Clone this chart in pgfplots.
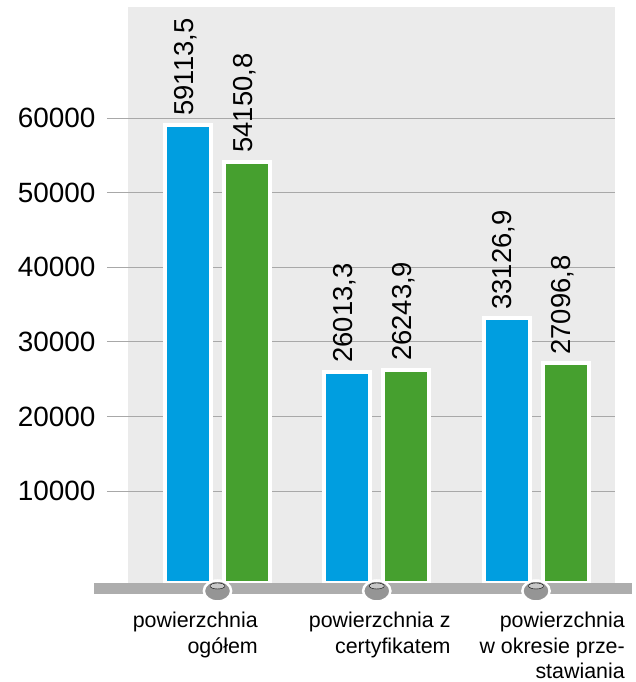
\documentclass[border=0pt]{standalone}
\usepackage{fontspec}
\setmainfont{Liberation Sans}
\usepackage{pgfplots}
\usepackage{pgfplotstable}
\pgfplotsset{compat=1.18}

\definecolor{barblue}{HTML}{009EE0}
\definecolor{bargreen}{HTML}{46A02F}
\definecolor{bggray}{HTML}{EBEBEB}
\definecolor{gridgray}{HTML}{A8A8A8}
\definecolor{basegray}{HTML}{ADADAD}
\definecolor{ballgray}{HTML}{959595}
\definecolor{ballhi}{HTML}{C8C8C8}

% the bars stand on the grey rail, which lies 2330 below zero
\pgfplotstableread{
x blue    blabel   green   glabel
0 59113.5 59113,5  54150.8 54150,8
1 26013.3 26013,3  26243.9 26243,9
2 33126.9 33126,9  27096.8 27096,8
}\data

\pgfplotsset{
  vlabel/.style={every node near coord/.style={xshift=#1, yshift=7bp,
      rotate=90, anchor=base west, inner sep=0pt, text=black,
      font=\fontsize{27.5}{30}\selectfont}},
}

\begin{document}
\begin{tikzpicture}
\begin{axis}[
    at={(128bp,99bp)}, anchor=south west,
    width=487bp, height=576bp, scale only axis,
    xmin=-0.562, xmax=2.496,
    ymin=0, ymax=77212,
    clip=false,
    axis background/.style={fill=bggray},
    axis line style={draw=none},
    ytick={12330,22330,32330,42330,52330,62330},
    yticklabels={10000,20000,30000,40000,50000,60000},
    ymajorgrids=true,
    grid style={gridgray, line width=0.8bp},
    ytick pos=left, tick align=outside, major tick length=21bp,
    ytick style={gridgray, line width=0.8bp},
    yticklabel style={font=\fontsize{28}{32}\selectfont, xshift=-8bp},
    xtick={0,1,2},
    xtick style={draw=none},
    xticklabels={{powierzchnia\\ogółem},{powierzchnia z\\certyfikatem},{powierzchnia\\w okresie prze-\\stawiania}},
    xticklabel style={anchor=north east, align=right, inner sep=0pt,
        font=\fontsize{21.5}{25.5}\selectfont, yshift=-8bp,
        xshift={(\ifcase\ticknum\space 40.5\or 74\or 89\fi)*1bp}},
    point meta=explicit symbolic,
]
\addplot[ybar, bar width=46bp, bar shift=-29.5bp, fill=barblue, draw=white,
    line width=4bp, y filter/.expression={y+2330},
    nodes near coords, vlabel=-24.5bp]
    table[x=x, y=blue, meta=blabel] {\data};
\addplot[ybar, bar width=46bp, bar shift=29.5bp, fill=bargreen, draw=white,
    line width=4bp, y filter/.expression={y+2330},
    nodes near coords, vlabel=34.5bp]
    table[x=x, y=green, meta=glabel] {\data};

% grey rail under the bars
\addplot[basegray, line width=11bp, no marks]
    coordinates {(-0.7755,-737) (2.603,-737)};

% grey knobs on the rail
\addplot[only marks, mark=*, mark size=10.5bp,
    mark options={xscale=1.3, fill=ballgray, draw=white, line width=2.5bp}]
    coordinates {(0,-1072) (1,-1072) (2,-1072)};
\addplot[only marks, mark=*, mark size=3bp,
    mark options={xscale=2.5, fill=ballhi, draw=none}]
    coordinates {(0,-400) (1,-400) (2,-400)};
\end{axis}
\pgfresetboundingbox
\useasboundingbox (0,0) rectangle (636bp,682bp);
\end{tikzpicture}
\end{document}
